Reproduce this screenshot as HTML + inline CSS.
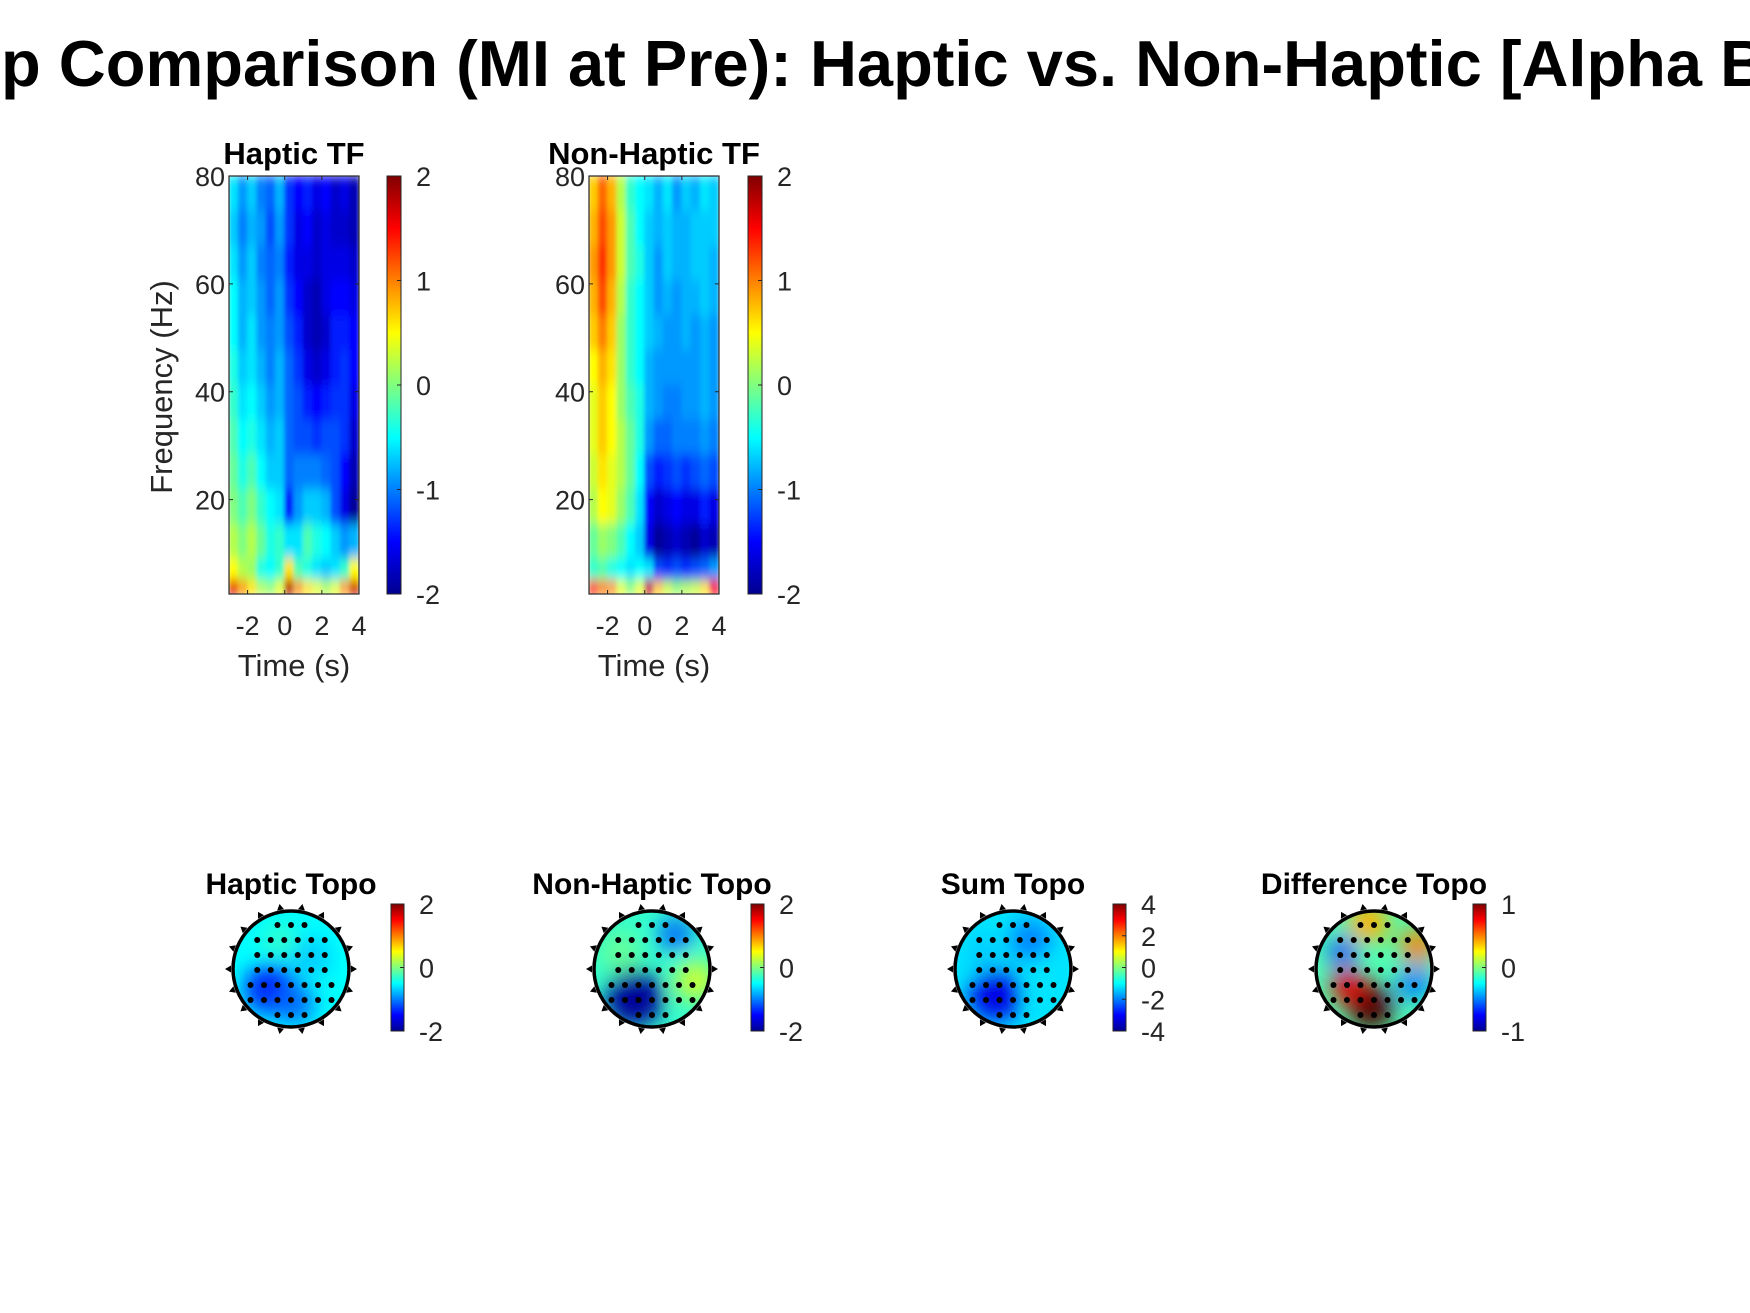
<!DOCTYPE html>
<html><head><meta charset="utf-8"><style>
html,body{margin:0;padding:0;background:#fff;}
svg{display:block;font-family:"Liberation Sans",Arial,sans-serif;}
</style></head><body>
<svg id="fig" width="1750" height="1313" viewBox="0 0 1750 1313" xmlns="http://www.w3.org/2000/svg">
<defs>
<linearGradient id="jet" x1="0" y1="1" x2="0" y2="0">
<stop offset="0" stop-color="#00008f"/><stop offset="0.125" stop-color="#0000ff"/><stop offset="0.375" stop-color="#00ffff"/><stop offset="0.625" stop-color="#ffff00"/><stop offset="0.875" stop-color="#ff0000"/><stop offset="1" stop-color="#800000"/>
</linearGradient>
<filter id="blurTF" x="-5%" y="-5%" width="110%" height="110%"><feGaussianBlur stdDeviation="2 6" edgeMode="duplicate"/></filter>
<filter id="blurTopo"><feGaussianBlur stdDeviation="11"/></filter>
</defs>
<text x="875" y="86" text-anchor="middle" font-size="65" font-weight="bold" fill="#000">Group Comparison (MI at Pre): Haptic vs. Non-Haptic [Alpha Band]</text>
</svg>
<script>
// Time-frequency data (rows: high freq -> low freq, cols: time -3..4 s step 0.5)
const tfTimes = [-3,-2.5,-2,-1.5,-1,-0.5,0,0.5,1,1.5,2,2.5,3,3.5];
const tfFreqRows = [80,73.5,67,60.6,54.1,47.7,41.2,34.8,28.3,21.9,15.4,9,5,2.5];
const hapticTF = [
[-0.6,-0.9,-0.7,-1.0,-1.1,-0.8,-1.3,-1.5,-1.4,-1.6,-1.5,-1.7,-1.6,-1.8],
[-0.7,-1.0,-0.8,-0.9,-1.2,-0.9,-1.3,-1.6,-1.5,-1.7,-1.6,-1.7,-1.7,-1.8],
[-0.6,-0.9,-0.7,-1.0,-1.1,-1.0,-1.4,-1.6,-1.6,-1.7,-1.6,-1.6,-1.6,-1.7],
[-0.5,-0.8,-0.7,-0.9,-1.1,-0.9,-1.3,-1.5,-1.7,-1.8,-1.6,-1.5,-1.5,-1.6],
[-0.5,-0.8,-0.6,-0.9,-1.0,-0.9,-1.2,-1.4,-1.7,-1.8,-1.7,-1.4,-1.4,-1.5],
[-0.4,-0.7,-0.6,-0.8,-1.0,-0.8,-1.1,-1.3,-1.6,-1.7,-1.6,-1.4,-1.3,-1.5],
[-0.3,-0.6,-0.5,-0.7,-0.9,-0.8,-1.1,-1.2,-1.4,-1.5,-1.4,-1.3,-1.3,-1.6],
[-0.2,-0.5,-0.4,-0.6,-0.8,-0.7,-1.1,-1.2,-1.2,-1.3,-1.2,-1.2,-1.3,-1.7],
[-0.1,-0.4,-0.2,-0.5,-0.7,-0.7,-1.1,-1.0,-1.0,-1.0,-1.1,-1.2,-1.5,-1.8],
[0.0,-0.2,0.0,-0.3,-0.5,-0.6,-1.4,-0.9,-0.7,-0.7,-0.8,-1.2,-1.6,-1.9],
[0.2,0.0,0.2,-0.1,-0.4,-0.3,-0.6,-0.6,-0.2,-0.4,-0.5,-0.7,-0.9,-0.8],
[0.5,0.2,0.1,-0.4,-0.5,-0.3,0.6,-0.2,-0.4,-0.6,-0.7,-0.6,-0.3,0.5],
[1.6,0.9,0.6,0.2,0.1,0.4,1.8,0.9,0.6,0.4,0.2,0.4,0.9,1.7]
];
const nonHapticTF = [
[0.7,1.1,0.8,0.2,-0.3,-0.5,-0.6,-0.8,-0.6,-0.9,-0.7,-0.8,-0.6,-0.7],
[0.8,1.2,0.9,0.3,-0.2,-0.5,-0.7,-0.8,-0.7,-0.8,-0.8,-0.7,-0.7,-0.7],
[0.9,1.3,0.9,0.3,-0.2,-0.4,-0.7,-0.9,-0.7,-0.8,-0.8,-0.7,-0.7,-0.8],
[0.8,1.2,0.8,0.2,-0.3,-0.5,-0.7,-0.9,-0.8,-0.9,-0.8,-0.8,-0.7,-0.8],
[0.7,1.0,0.7,0.1,-0.3,-0.5,-0.7,-0.8,-0.9,-0.9,-0.8,-0.9,-0.8,-0.9],
[0.5,0.8,0.6,0.1,-0.3,-0.5,-0.8,-0.9,-0.9,-0.9,-0.9,-0.9,-0.8,-0.9],
[0.4,0.7,0.5,0.1,-0.2,-0.4,-0.8,-0.9,-1.0,-1.0,-0.9,-0.9,-0.8,-0.9],
[0.4,0.7,0.5,0.2,-0.1,-0.4,-0.9,-1.1,-1.1,-1.0,-1.0,-1.0,-0.9,-1.0],
[0.3,0.6,0.4,0.2,-0.1,-0.5,-1.2,-1.4,-1.3,-1.2,-1.3,-1.2,-1.1,-1.2],
[0.2,0.5,0.4,0.1,-0.2,-0.6,-1.5,-1.7,-1.6,-1.5,-1.6,-1.6,-1.4,-1.6],
[-0.1,0.1,0.0,-0.2,-0.5,-0.7,-1.6,-1.9,-1.8,-1.7,-1.8,-1.9,-1.7,-1.8],
[-0.3,-0.2,-0.4,-0.5,-0.6,-0.5,-0.6,-1.2,-1.3,-1.2,-1.3,-1.2,-1.1,-0.9],
[1.3,1.0,0.9,0.4,0.1,0.4,1.7,0.7,0.3,0.1,0.2,0.3,0.6,1.5]
];
const tfTicksX = [-2,0,2,4];
const tfTicksY = [20,40,60,80];
const tfCbTicks = [-2,-1,0,1,2];

// Topography blobs: [x (-1..1), y (-1..1, down +), radius (frac), value]
const topoBase = [-0.5, -0.3, -1.2, -0.1];
const hapticBlobs = [[-0.35,0.35,0.45,-1.4],[0.05,0.6,0.35,-1.1],[0.35,-0.2,0.35,-0.7],[-0.2,-0.5,0.3,-0.3]];
const nonHapticBlobs = [[-0.3,0.5,0.5,-1.9],[0.75,0.2,0.35,0.3],[-0.55,-0.3,0.35,-0.1],[0.4,-0.6,0.3,-1.1]];
const sumBlobs = [[-0.3,0.45,0.45,-3.2],[0.6,0.2,0.35,-1.2],[0.3,-0.5,0.35,-2.0],[-0.5,-0.3,0.3,-1.4]];
const diffBlobs = [[-0.05,0.65,0.4,1.1],[-0.45,0.3,0.3,0.8],[-0.1,-0.8,0.35,0.4],[0.75,-0.4,0.3,0.5],[-0.55,-0.3,0.25,-0.6],[0.7,0.25,0.3,-0.5]];
const topoCbTicks = [[-2,0,2],[-2,0,2],[-4,-2,0,2,4],[-1,0,1]];
const topoRanges = [[-2,2],[-2,2],[-4,4],[-1,1]];
const topoTitles = ["Haptic Topo","Non-Haptic Topo","Sum Topo","Difference Topo"];
const electrodeRows = [[-44,3],[-29,6],[-14,6],[1,6],[16,7],[31,7],[46,3]];

const NS = "http://www.w3.org/2000/svg";
const svg = document.getElementById('fig');
function mk(tag, attrs, parent){const e=document.createElementNS(NS,tag);for(const k in attrs)e.setAttribute(k,attrs[k]);(parent||svg).appendChild(e);return e;}
function jet(v){
  const f=(x)=>Math.max(0,Math.min(1,x));
  const r=f(1.5-Math.abs(4*v-3)), g=f(1.5-Math.abs(4*v-2)), b=f(1.5-Math.abs(4*v-1));
  return `rgb(${Math.round(r*255)},${Math.round(g*255)},${Math.round(b*255)})`;
}
function txt(x,y,s,size,anchor,weight,fill){const t=mk('text',{x:x,y:y,'font-size':size,'text-anchor':anchor||'middle','font-weight':weight||'normal',fill:fill||'#262626'});t.textContent=s;return t;}

function drawTF(px, cbx, data, title, name, showYLabel){
  const top=176, bot=594, left=px, right=px+130;
  const g=mk('g',{});
  
  
  const xs=(t)=>left+(t-(-3))/(4-(-3))*(right-left);
  const ys=(f)=>top+(80-f)/(80-2.5)*(bot-top);
  const cid='clip'+name;
  const cp=mk('clipPath',{id:cid},g); mk('rect',{x:left,y:top,width:right-left,height:bot-top},cp);
  const hm=mk('g',{'clip-path':`url(#${cid})`},g);
  const inner=mk('g',{filter:'url(#blurTF)'},hm);
  for(let r=0;r<data.length;r++){
    for(let c=0;c<tfTimes.length;c++){
      const x0=xs(tfTimes[c]), x1=xs(tfTimes[c]+0.5);
      const y0=ys(tfFreqRows[r]), y1=ys(tfFreqRows[r+1]);
      const cell=mk('rect',{x:x0-0.5,y:y0-0.5,width:x1-x0+1,height:y1-y0+1,fill:jet((data[r][c]+2)/4)},inner);
      
      
    }
  }
  mk('rect',{x:left,y:top,width:right-left,height:bot-top,fill:'none',stroke:'#262626','stroke-width':1.2},g);
  tfTicksX.forEach(t=>{const x=xs(t);mk('line',{x1:x,x2:x,y1:bot,y2:bot-4,stroke:'#262626'},g);mk('line',{x1:x,x2:x,y1:top,y2:top+4,stroke:'#262626'},g);
    const l=txt(x,635,String(t),27);  });
  tfTicksY.forEach(f=>{const y=ys(f);mk('line',{x1:left,x2:left+4,y1:y,y2:y,stroke:'#262626'},g);mk('line',{x1:right,x2:right-4,y1:y,y2:y,stroke:'#262626'},g);
    const l=txt(left-4,y+10,String(f),27,'end');  });
  const tt=txt((left+right)/2,164,title,31,'middle','bold','#000');
   
  const xl=txt((left+right)/2,676,'Time (s)',31);
   
  if(showYLabel){const yl=txt(0,0,'Frequency (Hz)',31);yl.setAttribute('transform',`translate(172,${(top+bot)/2 + 2}) rotate(-90)`);
     }
  const cb=mk('rect',{x:cbx,y:top,width:14,height:bot-top,fill:'url(#jet)',stroke:'#262626','stroke-width':1},g);
   
  tfCbTicks.forEach(v=>{const y=bot-(v+2)/4*(bot-top);mk('line',{x1:cbx+14,x2:cbx+10,y1:y,y2:y,stroke:'#262626'},g);
    const l=txt(cbx+29,y+10,String(v),27,'start');  });
}
drawTF(229,387,hapticTF,'Haptic TF','haptic-tf',true);
drawTF(589,748,nonHapticTF,'Non-Haptic TF','non-haptic-tf',false);

const topoCenters=[291,652,1013,1374];
const topoCbX=[391,751,1113,1473];
const allBlobs=[hapticBlobs,nonHapticBlobs,sumBlobs,diffBlobs];
for(let i=0;i<4;i++){
  const cx=topoCenters[i], cy=969, R=58;
  const [lo,hi]=topoRanges[i];
  const norm=(v)=>(v-lo)/(hi-lo);
  const g=mk('g',{});
  
  
  const cid='tclip'+i;
  const cp=mk('clipPath',{id:cid},g); mk('circle',{cx:cx,cy:cy,r:R},cp);
  const m=mk('g',{'clip-path':`url(#${cid})`},g);
  mk('rect',{x:cx-R,y:cy-R,width:2*R,height:2*R,fill:jet(norm(topoBase[i]))},m);
  const bl=mk('g',{filter:'url(#blurTopo)'},m);
  allBlobs[i].forEach(b=>{const c=mk('circle',{cx:cx+b[0]*R,cy:cy+b[1]*R,r:b[2]*R,fill:jet(norm(b[3]))},bl);
     });
  for(let k=0;k<18;k++){const a=k/18*2*Math.PI;const x=cx+Math.cos(a)*(R+2),y=cy+Math.sin(a)*(R+2);
    mk('polygon',{points:`${cx+Math.cos(a)*(R+8)},${cy+Math.sin(a)*(R+8)} ${x+Math.cos(a+1.57)*3.5},${y+Math.sin(a+1.57)*3.5} ${x-Math.cos(a+1.57)*3.5},${y-Math.sin(a+1.57)*3.5}`,fill:'#000'},g);}
  const head=mk('circle',{cx:cx,cy:cy,r:R,fill:'none',stroke:'#000','stroke-width':3.5},g);
   
  electrodeRows.forEach(([dy,n])=>{for(let k=0;k<n;k++){const dx=(k-(n-1)/2)*13.5;
    const e=mk('circle',{cx:cx+dx,cy:cy+dy,r:3,fill:'#000'},g);
     }});
  const tt=txt(cx,894,topoTitles[i],30,'middle','bold','#000');
   
  const cbx=topoCbX[i], ct=904, cbt=1031;
  const cb=mk('rect',{x:cbx,y:ct,width:13,height:cbt-ct,fill:'url(#jet)',stroke:'#262626','stroke-width':1},g);
   
  topoCbTicks[i].forEach(v=>{const y=cbt-norm(v)*(cbt-ct);mk('line',{x1:cbx+13,x2:cbx+9,y1:y,y2:y,stroke:'#262626'},g);
    const l=txt(cbx+28,y+10,String(v),27,'start');  });
}
</script>
</body></html>
